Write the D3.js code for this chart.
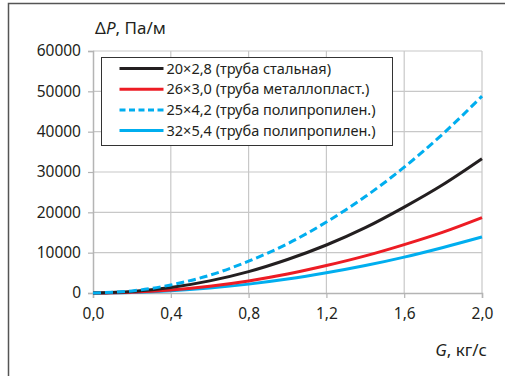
<!DOCTYPE html>
<html>
<head>
<meta charset="utf-8">
<script src="https://cdn.jsdelivr.net/npm/d3@7"></script>
<style>
  body { margin: 0; background: #fff; }
  text { font-family: "Noto Sans", "Open Sans", sans-serif; fill: #231f20; }
</style>
</head>
<body>
<div id="chart"></div>
<script>
// flow rate G, kg/s
const flow = [0, 0.2, 0.4, 0.6, 0.8, 1.0, 1.2, 1.4, 1.6, 1.8, 2.0];

// pressure drop, Pa/m
const steel20 = [0, 350, 1350, 3000, 5300, 8300, 11900, 16200, 21300, 26900, 33300];
const metal26 = [0, 200, 760, 1700, 3000, 4700, 6800, 9200, 12000, 15100, 18700];
const pp25 = [0, 520, 2000, 4400, 7900, 12200, 17600, 23900, 31200, 39500, 48800];
const pp32 = [0, 150, 560, 1250, 2200, 3450, 5000, 6800, 8900, 11300, 13900];

const seriesNames = [
  '20×2,8 (труба стальная)',
  '26×3,0 (труба металлопласт.)',
  '25×4,2 (труба полипропилен.)',
  '32×5,4 (труба полипропилен.)'
];

const xTicks = [0, 0.4, 0.8, 1.2, 1.6, 2.0];
const yTicks = [0, 10000, 20000, 30000, 40000, 50000, 60000];

const series = [
  {name: seriesNames[0], values: steel20, color: '#231f20', dash: null},
  {name: seriesNames[1], values: metal26, color: '#ed1c24', dash: null},
  {name: seriesNames[2], values: pp25, color: '#00aeef', dash: '8,4'},
  {name: seriesNames[3], values: pp32, color: '#00aeef', dash: null}
];

const width = 505, height = 376;
const margin = {top: 51, right: 23, bottom: 83, left: 93};
const innerW = width - margin.left - margin.right;
const innerH = height - margin.top - margin.bottom;

const svg = d3.select('#chart').append('svg')
    .attr('width', width)
    .attr('height', height);

// outer frame (only left and top edges are inside the picture)
svg.append('path')
    .attr('d', `M8.5,${height} L8.5,3.5 L${width},3.5`)
    .attr('fill', 'none')
    .attr('stroke', '#555')
    .attr('stroke-width', 1.5);

const chart = svg.append('g')
    .attr('transform', `translate(${margin.left},${margin.top})`);

const x = d3.scaleLinear().domain([0, 2]).range([0, innerW]);
const y = d3.scaleLinear().domain([0, 60000]).range([innerH, 0]);

// gridlines
chart.append('g').selectAll('line.vg')
    .data(xTicks.slice(1))
    .join('line')
    .attr('x1', d => x(d)).attr('x2', d => x(d))
    .attr('y1', 0).attr('y2', innerH)
    .attr('stroke', '#c8c8c8').attr('stroke-width', 1.2);

chart.append('g').selectAll('line.hg')
    .data(yTicks.slice(1))
    .join('line')
    .attr('x1', 0).attr('x2', innerW)
    .attr('y1', d => y(d)).attr('y2', d => y(d))
    .attr('stroke', '#c8c8c8').attr('stroke-width', 1.2);

// axes
const fmtX = d => d.toFixed(1).replace('.', ',');
const xAxis = d3.axisBottom(x).tickValues(xTicks).tickFormat(fmtX).tickSize(5).tickPadding(10);
const yAxis = d3.axisLeft(y).tickValues(yTicks).tickFormat(d3.format('d')).tickSize(5).tickPadding(7);

const xAxisG = chart.append('g')
    .attr('transform', `translate(0,${innerH})`)
    .call(xAxis);
const yAxisG = chart.append('g').call(yAxis);

[xAxisG, yAxisG].forEach(g => {
  g.select('.domain').attr('stroke', '#b4b4b4').attr('stroke-width', 1.5);
  g.selectAll('.tick line').attr('stroke', '#b4b4b4').attr('stroke-width', 1.2);
  g.selectAll('.tick text')
      .attr('font-size', 15.5)
      .style('font-family', '"Noto Sans", sans-serif')
      .attr('fill', '#231f20');
});

// curves
const line = d3.line()
    .x((d, i) => x(flow[i]))
    .y(d => y(d))
    .curve(d3.curveMonotoneX);

// draw order: light blue first, then red, black, dashed on top
[series[3], series[1], series[0], series[2]].forEach(s => {
  chart.append('path')
      .datum(s.values)
      .attr('d', line)
      .attr('fill', 'none')
      .attr('stroke', s.color)
      .attr('stroke-width', 3)
      .attr('stroke-dasharray', s.dash);
});

// legend
const legend = svg.append('g').attr('transform', 'translate(101.5,57.5)');
legend.append('rect')
    .attr('width', 291)
    .attr('height', 88)
    .attr('fill', '#fff')
    .attr('stroke', '#333')
    .attr('stroke-width', 1);

series.forEach((s, i) => {
  const ly = 11 + i * 20.7;
  legend.append('line')
      .attr('x1', 18).attr('x2', 62)
      .attr('y1', ly).attr('y2', ly)
      .attr('stroke', s.color)
      .attr('stroke-width', 3)
      .attr('stroke-dasharray', s.dash ? '6,3.5' : null);
  legend.append('text')
      .attr('x', 65)
      .attr('y', ly)
      .attr('dy', '0.35em')
      .attr('font-size', 14.5)
      .text(s.name);
});

// axis titles
const yTitle = svg.append('text')
    .attr('x', 95)
    .attr('y', 34)
    .attr('font-size', 17);
yTitle.append('tspan').text('Δ');
yTitle.append('tspan').attr('font-style', 'italic').text('P');
yTitle.append('tspan').text(', Па/м');

const xTitle = svg.append('text')
    .attr('x', 487)
    .attr('y', 356)
    .attr('text-anchor', 'end')
    .attr('font-size', 17);
xTitle.append('tspan').attr('font-style', 'italic').text('G');
xTitle.append('tspan').text(', кг/с');
</script>
</body>
</html>
